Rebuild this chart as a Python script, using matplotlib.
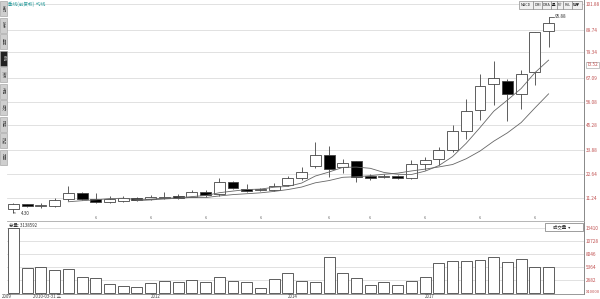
import matplotlib
matplotlib.use("Agg")
import matplotlib.pyplot as plt
from matplotlib.patches import Rectangle
import numpy as np
import pandas as pd

plt.rcParams['font.family'] = ['Noto Sans CJK SC', 'DejaVu Sans']

# ---------------- data (quarterly candles) ----------------
opens  = [6.1, 8.4, 7.5, 7.5, 10.6, 13.4, 10.8, 9.5, 10.0, 11.1,
          10.6, 11.1, 12.2, 11.9, 14.2, 13.0, 18.6, 15.3, 14.9, 15.0,
          17.3, 20.5, 26.3, 31.1, 25.5, 28.3, 21.7, 21.2, 21.7, 20.5,
          27.1, 29.6, 33.8, 42.7, 52.3, 64.3, 65.9, 60.0, 70.3, 89.3]
closes = [8.4, 7.5, 7.8, 10.3, 13.4, 10.9, 9.5, 10.7, 11.1, 10.3,
          11.9, 11.9, 11.2, 14.2, 12.6, 18.6, 15.8, 14.7, 15.3, 17.0,
          20.5, 23.6, 31.1, 24.7, 27.8, 21.2, 20.8, 21.4, 20.5, 27.1,
          29.1, 33.8, 42.4, 51.8, 63.6, 67.2, 60.0, 69.4, 88.7, 93.0]
highs  = [8.8, 8.6, 8.9, 11.3, 16.9, 14.0, 13.4, 12.1, 12.3, 11.8,
          12.6, 14.0, 13.0, 14.9, 14.9, 20.5, 19.2, 18.0, 15.9, 18.4,
          21.6, 25.7, 37.2, 35.4, 29.4, 28.7, 22.4, 22.6, 22.0, 28.8,
          30.6, 34.9, 45.2, 57.3, 69.0, 75.3, 67.0, 70.9, 89.0, 95.88]
lows   = [4.30, 7.2, 6.4, 7.2, 10.0, 10.5, 8.8, 9.1, 9.6, 9.8,
          10.2, 10.7, 10.8, 11.5, 11.9, 12.4, 15.3, 14.2, 14.4, 14.5,
          16.8, 19.8, 25.2, 21.0, 22.8, 18.9, 19.6, 20.5, 19.9, 20.3,
          24.4, 26.7, 32.5, 39.0, 47.9, 54.9, 47.4, 52.6, 64.0, 81.6]
volumes = [13400, 5160, 5370, 4820, 5020, 3300, 3170, 1930, 1510, 1240,
           2130, 2550, 2340, 2750, 2340, 3370, 2550, 2340, 1030, 2890,
           4130, 2550, 2340, 7430, 4130, 3100, 1720, 2270, 1720, 2550,
           3370, 6190, 6600, 6600, 6810, 7430, 6400, 7090, 5370, 5370]

price_ticks = [11.24, 22.64, 33.88, 45.28, 56.08, 67.09, 79.34, 89.74, 101.88]
price_tick_labels = ["11.24", "22.64", "33.88", "45.28", "56.08", "67.09", "79.34", "89.74", "101.88"]
vol_ticks = [2682, 5364, 8046, 10728, 13410]
vol_tick_labels = ["2682", "5364", "8046", "10728", "13410"]
date_labels = ["2009", "2010-03-31 三", "2012", "2014", "2017"]
date_label_idx = [-0.85, 1.4, 10.0, 20.0, 30.0]
event_idx = [6, 10, 14, 18, 23, 26, 30, 34, 38]
side_tabs = ["分时", "技术", "基本", "K线", "资讯", "行情", "成交", "财务", "热点", "龙虎"]
toolbar = ["MACD", "DMI", "DMA", "量", "价", "FSL", "模▼"]

W, H = 600, 299
fig = plt.figure(figsize=(6.0, 2.99), dpi=100)

def rect(x0, y0, x1, y1):
    return [x0 / W, 1 - y1 / H, (x1 - x0) / W, (y1 - y0) / H]

n = len(opens)
idx = np.arange(n)
xl = (-0.47, 41.58)
grid_c = '#dcdcdc'
lab_c = '#c05050'
edge_c = '#444444'

# ---------------- price panel ----------------
ax = fig.add_axes(rect(7, 0, 584, 221))
ax.set_xlim(*xl)
ax.set_ylim(0.49, 103.76)
for t in price_ticks:
    ax.axhline(t, color=grid_c, lw=0.6, zorder=0)
ax.vlines(idx, lows, highs, color=edge_c, lw=0.6, zorder=2)
o = np.array(opens); c = np.array(closes)
bottoms = np.minimum(o, c)
heights = np.maximum(np.abs(c - o), 0.25)
faces = ['white' if cc >= oo else 'black' for oo, cc in zip(o, c)]
ax.bar(idx, heights, bottom=bottoms, width=0.8, color=faces,
       edgecolor=edge_c, linewidth=0.6, zorder=3)
cs = pd.Series(closes)
ax.plot(idx, cs.rolling(5).mean(), color='#666666', lw=0.6, zorder=4)
ax.plot(idx, cs.rolling(10).mean(), color='#666666', lw=0.6, zorder=4)

# extreme labels
ax.annotate("4.30", xy=(0, lows[0]), xytext=(0.55, lows[0] - 0.4), fontsize=3.3,
            color='#333333', va='center',
            arrowprops=dict(arrowstyle='-', color='#333333', lw=0.5))
ax.plot([n - 1, n - 0.6], [highs[-1], highs[-1]], color='#333333', lw=0.5)
ax.text(n - 0.55, highs[-1], "95.88", fontsize=3.3, color='#333333', va='center')

# event markers
for e in event_idx:
    ax.text(e, 1.8, "6", fontsize=2.8, color='#555555', ha='center', va='center')

ax.set_yticks(price_ticks)
ax.set_yticklabels(price_tick_labels)
ax.yaxis.tick_right()
ax.tick_params(axis='y', length=0, pad=1.5, labelsize=3.4, labelcolor=lab_c)
ax.set_xticks([])
for s in ['top', 'left']:
    ax.spines[s].set_visible(False)
ax.spines['right'].set_color('#888888')
ax.spines['right'].set_linewidth(0.7)
ax.spines['bottom'].set_color('#aaaaaa')
ax.spines['bottom'].set_linewidth(0.6)
# current value box
ax.text(1.005, (73.52 - 0.49) / (103.76 - 0.49), "73.52", transform=ax.transAxes,
        fontsize=3.4, color=lab_c, va='center', ha='left',
        bbox=dict(boxstyle='square,pad=0.15', fc='white', ec='#999999', lw=0.4))

# ---------------- volume panel ----------------
av = fig.add_axes(rect(7, 222, 584, 294))
av.set_xlim(*xl)
av.set_ylim(-140, 14640)
for t in vol_ticks:
    av.axhline(t, color=grid_c, lw=0.6, zorder=0)
av.bar(idx, volumes, width=0.8, color='white', edgecolor=edge_c, linewidth=0.6, zorder=3)
av.set_yticks(vol_ticks)
av.set_yticklabels(vol_tick_labels)
av.yaxis.tick_right()
av.tick_params(axis='y', length=0, pad=1.5, labelsize=3.4, labelcolor=lab_c)
av.set_xticks([])
for s in ['top', 'left']:
    av.spines[s].set_visible(False)
av.spines['right'].set_color('#888888')
av.spines['right'].set_linewidth(0.7)
av.spines['bottom'].set_color('#888888')
av.spines['bottom'].set_linewidth(0.6)
av.text(-0.3, 14400, "总量: 3138592", fontsize=3.2, color='#333333', va='top')
fig.text(586 / W, 1 - 292 / H, "X10000", fontsize=3.0, color=lab_c, va='center')
# dropdown
fig.patches.append(Rectangle((545 / W, 1 - 231 / H), 38 / W, 8 / H, transform=fig.transFigure,
                             fc='white', ec='#777777', lw=0.5))
fig.text(562 / W, 1 - 227 / H, "成交量  ▾", fontsize=3.2, color='#333333', ha='center', va='center')

# ---------------- date labels ----------------
for lab, di in zip(date_labels, date_label_idx):
    xp = 7 + (di - xl[0]) / (xl[1] - xl[0]) * 577
    fig.text(xp / W, 1 - 296.8 / H, lab, fontsize=3.2, color='#444444', ha='left', va='center')

# ---------------- left sidebar ----------------
for k, t in enumerate(side_tabs):
    y0 = 1 + k * 16.5
    sel = (k == 3)
    fig.patches.append(Rectangle((0, 1 - (y0 + 15) / H), 6.5 / W, 15 / H, transform=fig.transFigure,
                                 fc='#222222' if sel else '#cfcfcf', ec='#999999', lw=0.4))
    fig.text(3.2 / W, 1 - (y0 + 7.5) / H, t, fontsize=2.6, rotation=270,
             color='white' if sel else '#444444', ha='center', va='center')

# ---------------- title ----------------
fig.text(8 / W, 1 - 4 / H, "季线(前复权)  均线", fontsize=3.3, color='#2a9d9d', va='center')

# ---------------- toolbar ----------------
xb = 519
bw = [14, 9, 9, 6, 6, 9, 10]
for t, w in zip(toolbar, bw):
    fig.patches.append(Rectangle((xb / W, 1 - 9 / H), w / W, 8.5 / H, transform=fig.transFigure,
                                 fc='#f0f0f0', ec='#777777', lw=0.4))
    fig.text((xb + w / 2) / W, 1 - 4.8 / H, t, fontsize=2.6, color='#222222', ha='center', va='center')
    xb += w

fig.savefig("out.png", dpi=100)
